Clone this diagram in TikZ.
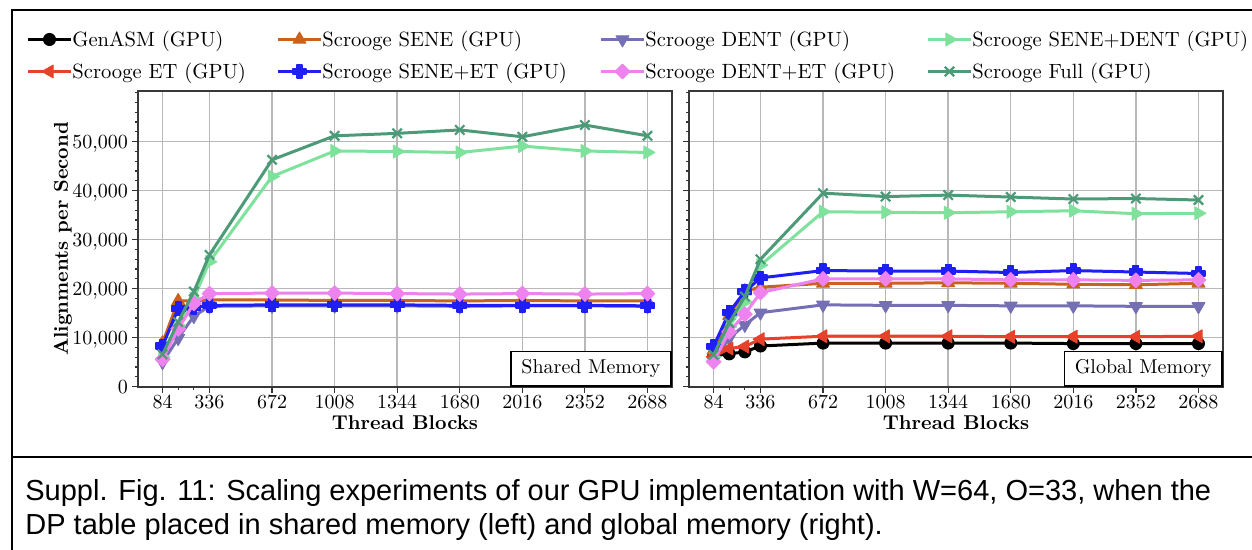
\documentclass[tikz,border=0pt]{standalone}
\usepackage{fontspec}
\newfontfamily\capfont{Liberation Sans}
\usetikzlibrary{plotmarks}
\definecolor{cSene}{HTML}{C8621E}
\definecolor{cDent}{HTML}{7570B3}
\definecolor{cSD}{HTML}{7EE29C}
\definecolor{cET}{HTML}{E8412A}
\definecolor{cSET}{HTML}{1E1EF5}
\definecolor{cDET}{HTML}{EE82EE}
\definecolor{cFull}{HTML}{4D9A78}
\pgfdeclareplotmark{fplus}{%
  \pgfpathmoveto{\pgfqpoint{-0.42\pgfplotmarksize}{\pgfplotmarksize}}%
  \pgfpathlineto{\pgfqpoint{0.42\pgfplotmarksize}{\pgfplotmarksize}}%
  \pgfpathlineto{\pgfqpoint{0.42\pgfplotmarksize}{0.42\pgfplotmarksize}}%
  \pgfpathlineto{\pgfqpoint{\pgfplotmarksize}{0.42\pgfplotmarksize}}%
  \pgfpathlineto{\pgfqpoint{\pgfplotmarksize}{-0.42\pgfplotmarksize}}%
  \pgfpathlineto{\pgfqpoint{0.42\pgfplotmarksize}{-0.42\pgfplotmarksize}}%
  \pgfpathlineto{\pgfqpoint{0.42\pgfplotmarksize}{-\pgfplotmarksize}}%
  \pgfpathlineto{\pgfqpoint{-0.42\pgfplotmarksize}{-\pgfplotmarksize}}%
  \pgfpathlineto{\pgfqpoint{-0.42\pgfplotmarksize}{-0.42\pgfplotmarksize}}%
  \pgfpathlineto{\pgfqpoint{-\pgfplotmarksize}{-0.42\pgfplotmarksize}}%
  \pgfpathlineto{\pgfqpoint{-\pgfplotmarksize}{0.42\pgfplotmarksize}}%
  \pgfpathlineto{\pgfqpoint{-0.42\pgfplotmarksize}{0.42\pgfplotmarksize}}%
  \pgfpathclose
  \pgfusepathqfillstroke}
\tikzset{
  gridline/.style={draw=black!28, line width=0.7pt},
  tickline/.style={draw=black!80, line width=0.6pt},
  axisframe/.style={draw=black!78, line width=1pt},
  framerule/.style={draw=black, line width=1.1pt},
  series/.style={line width=1.5pt, line join=round},
  sGen/.style={color=black, mark=*, mark size=3pt, mark options={line width=0.5pt}},
  sSene/.style={color=cSene, mark=triangle*, mark size=3.7pt, mark options={line width=0.5pt}},
  sDent/.style={color=cDent, mark=triangle*, mark size=3.7pt, mark options={line width=0.5pt, rotate=180}},
  sSD/.style={color=cSD, mark=triangle*, mark size=3.7pt, mark options={line width=0.5pt, rotate=-90}},
  sET/.style={color=cET, mark=triangle*, mark size=3.7pt, mark options={line width=0.5pt, rotate=90}},
  sSET/.style={color=cSET, mark=fplus, mark size=3.3pt, mark options={line width=0.8pt, line join=round}},
  sDET/.style={color=cDET, mark=square*, mark size=2.6pt, mark options={line width=0.5pt, rotate=45}},
  sFull/.style={color=cFull, mark=x, mark size=3.3pt, mark options={line width=1.1pt}},
  ticklab/.style={inner sep=0pt, font=\fontsize{10}{12}\selectfont},
  legtext/.style={inner sep=0pt, anchor=base west, font=\fontsize{10.3}{12}\selectfont},
  boxlab/.style={draw=black, line width=0.7pt, fill=white},
}
\begin{document}
\begin{tikzpicture}[x=0.5pt,y=0.5pt]
\useasboundingbox (0,0) rectangle (1252,550);
\fill[white] (0,0) rectangle (1252,550);
% outer frame
\coordinate (ftl) at (12,540);
\coordinate (ftr) at (1252,540);
\coordinate (fbl) at (12,0);
\coordinate (fsl) at (12,92.7);
\coordinate (fsr) at (1252,92.7);
\draw[framerule] (ftr) -- (ftl) -- (fbl);
\draw[framerule] (fsl) -- (fsr);

% ===== legend =====
\foreach \nm/\st/\xa/\yy/\txt in {
  g/sGen/28/510.5/{GenASM (GPU)},
  s/sSene/278/510.5/{Scrooge SENE (GPU)},
  d/sDent/601/510.5/{Scrooge DENT (GPU)},
  sd/sSD/928/510.5/{Scrooge SENE+DENT (GPU)},
  e/sET/28/478.5/{Scrooge ET (GPU)},
  se/sSET/278/478.5/{Scrooge SENE+ET (GPU)},
  de/sDET/601/478.5/{Scrooge DENT+ET (GPU)},
  f/sFull/928/478.5/{Scrooge Full (GPU)}}{
  \coordinate (la\nm) at (\xa,\yy);
  \coordinate (lb\nm) at (\xa+43,\yy);
  \draw[series,\st] (la\nm) -- (lb\nm);
  \draw[series,\st] plot coordinates {(\xa+21.5,\yy)};
  \node[legtext] (lt\nm) at (\xa+44,\yy-6.8) {\txt};
}

% ===== axis labels =====
\node[rotate=90, inner sep=0pt, font=\bfseries] (ylab) at (63,311) {Alignments per Second};
\node[anchor=base, inner sep=0pt, font=\bfseries] (xlabL) at (405,120.7) {Thread Blocks};
\node[anchor=base, inner sep=0pt, font=\bfseries] (xlabR) at (956,120.7) {Thread Blocks};

% ===== left axis (shared memory) =====
\begin{scope}[shift={(73.45pt,81.65pt)},x=0.09311pt,y=2.45pt]
  \foreach \v in {84,336,672,1008,1344,1680,2016,2352,2688}
    \draw[gridline] (\v,0) -- (\v,60.408);
  \foreach \v in {10,20,30,40,50}
    \draw[gridline] (-46.2,\v) -- (2818.2,\v);
  \foreach \v in {84,336,672,1008,1344,1680,2016,2352,2688}{
    \draw[tickline] (\v,0) -- ++(0,-3pt);
    \node[ticklab, anchor=base] (lxt\v) at (\v,0) [yshift=-10.8pt] {\v};
  }
  \foreach \v in {168,252} \draw[tickline] (\v,0) -- ++(0,-1.6pt);
  \foreach \v in {2,4,...,60} \draw[tickline] (-46.2,\v) -- ++(-1.6pt,0);
  \foreach \v/\t in {0/0,10/{10,000},20/{20,000},30/{30,000},40/{40,000},50/{50,000}}{
    \draw[tickline] (-46.2,\v) -- ++(-3pt,0);
    \node[ticklab, anchor=base east] (lyt\v) at (-46.2,\v) [xshift=-5pt,yshift=-3.6pt] {\t};
  }
  \draw[series,sSene] plot coordinates {(84,8.9) (168,17.5) (252,17.5) (336,17.7) (672,17.7) (1008,17.6) (1344,17.6) (1680,17.5) (2016,17.6) (2352,17.5) (2688,17.5)};
  \draw[series,sDent] plot coordinates {(84,5.0) (168,9.9) (252,14.4) (336,16.4) (672,16.5) (1008,16.5) (1344,16.5) (1680,16.4) (2016,16.5) (2352,16.5) (2688,16.4)};
  \draw[series,sSD] plot coordinates {(84,6.1) (168,12.5) (252,18.0) (336,25.5) (672,42.9) (1008,48.1) (1344,48.0) (1680,47.8) (2016,49.1) (2352,48.1) (2688,47.8)};
  \draw[series,sSET] plot coordinates {(84,8.3) (168,15.9) (252,16.2) (336,16.6) (672,16.7) (1008,16.7) (1344,16.7) (1680,16.6) (2016,16.6) (2352,16.6) (2688,16.5)};
  \draw[series,sDET] plot coordinates {(84,5.6) (168,11.8) (252,17.0) (336,19.0) (672,19.1) (1008,19.1) (1344,19.0) (1680,18.9) (2016,19.0) (2352,18.9) (2688,19.0)};
  \draw[series,sFull] plot coordinates {(84,6.6) (168,13.2) (252,19.4) (336,26.9) (672,46.3) (1008,51.2) (1344,51.7) (1680,52.4) (2016,51.0) (2352,53.4) (2688,51.2)};
  \draw[axisframe] (-46.2,0) rectangle (2818.2,60.408);
  \node[boxlab, anchor=south east, minimum width=80pt, minimum height=17.2pt, inner sep=0pt] (boxL) at (2818.2,0) {Shared Memory};
\end{scope}

% ===== right axis (global memory) =====
\begin{scope}[shift={(348.95pt,81.65pt)},x=0.09311pt,y=2.45pt]
  \foreach \v in {84,336,672,1008,1344,1680,2016,2352,2688}
    \draw[gridline] (\v,0) -- (\v,60.408);
  \foreach \v in {10,20,30,40,50}
    \draw[gridline] (-46.2,\v) -- (2818.2,\v);
  \foreach \v in {84,336,672,1008,1344,1680,2016,2352,2688}{
    \draw[tickline] (\v,0) -- ++(0,-3pt);
    \node[ticklab, anchor=base] (rxt\v) at (\v,0) [yshift=-10.8pt] {\v};
  }
  \foreach \v in {168,252} \draw[tickline] (\v,0) -- ++(0,-1.6pt);
  \foreach \v in {2,4,...,60} \draw[tickline] (-46.2,\v) -- ++(-1.6pt,0);
  \foreach \v in {0,10,20,30,40,50} \draw[tickline] (-46.2,\v) -- ++(-3pt,0);
  \draw[series,sGen] plot coordinates {(84,6.3) (168,6.7) (252,7.1) (336,8.3) (672,8.9) (1008,8.9) (1344,8.9) (1680,8.9) (2016,8.8) (2352,8.8) (2688,8.8)};
  \draw[series,sSene] plot coordinates {(84,7.4) (168,14.5) (252,19.5) (336,20.3) (672,21.1) (1008,21.1) (1344,21.2) (1680,21.1) (2016,20.9) (2352,20.8) (2688,21.1)};
  \draw[series,sDent] plot coordinates {(84,5.4) (168,9.9) (252,12.6) (336,15.1) (672,16.7) (1008,16.6) (1344,16.6) (1680,16.5) (2016,16.5) (2352,16.4) (2688,16.4)};
  \draw[series,sSD] plot coordinates {(84,6.1) (168,12.2) (252,17.3) (336,24.8) (672,35.7) (1008,35.6) (1344,35.5) (1680,35.7) (2016,35.9) (2352,35.3) (2688,35.4)};
  \draw[series,sET] plot coordinates {(84,6.1) (168,7.8) (252,8.2) (336,9.7) (672,10.3) (1008,10.3) (1344,10.3) (1680,10.2) (2016,10.2) (2352,10.2) (2688,10.3)};
  \draw[series,sSET] plot coordinates {(84,8.2) (168,15.2) (252,19.4) (336,22.2) (672,23.7) (1008,23.6) (1344,23.6) (1680,23.3) (2016,23.7) (2352,23.4) (2688,23.1)};
  \draw[series,sDET] plot coordinates {(84,5.1) (168,11.2) (252,14.8) (336,19.2) (672,22.0) (1008,22.0) (1344,22.0) (1680,21.8) (2016,21.8) (2352,21.7) (2688,21.8)};
  \draw[series,sFull] plot coordinates {(84,6.5) (168,13.0) (252,18.4) (336,26.0) (672,39.5) (1008,38.8) (1344,39.1) (1680,38.7) (2016,38.3) (2352,38.4) (2688,38.1)};
  \draw[axisframe] (-46.2,0) rectangle (2818.2,60.408);
  \node[boxlab, anchor=south east, minimum width=78.8pt, minimum height=17.2pt, inner sep=0pt] (boxR) at (2818.2,0) {Global Memory};
\end{scope}

% ===== caption =====
\node[anchor=base west, inner sep=0pt, font=\capfont\fontsize{14.5}{16}\selectfont] (cap1) at (25,49) {Suppl. Fig. 11: Scaling experiments of our GPU implementation with W=64, O=33, when the};
\node[anchor=base west, inner sep=0pt, font=\capfont\fontsize{14.5}{16}\selectfont] (cap2) at (25,15) {DP table placed in shared memory (left) and global memory (right).};
\end{tikzpicture}
\end{document}
